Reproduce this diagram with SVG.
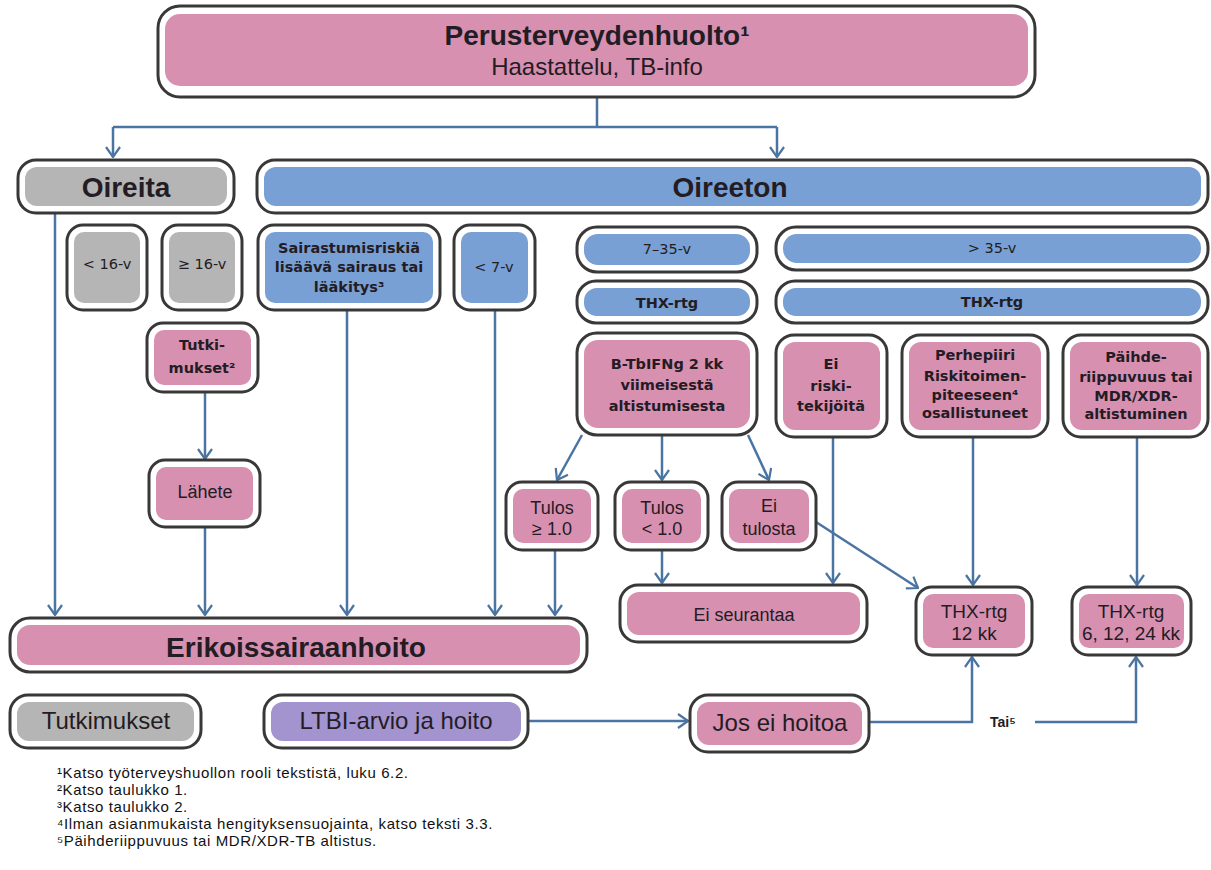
<svg xmlns="http://www.w3.org/2000/svg" width="1211" height="870" viewBox="0 0 1211 870">
<defs>
<marker id="ar" viewBox="0 0 12 16" refX="11" refY="8" markerWidth="12" markerHeight="16" markerUnits="userSpaceOnUse" orient="auto">
<path d="M1,1 L11,8 L1,15" fill="none" stroke="#4a74a2" stroke-width="2.2"/>
</marker>
</defs>
<style>
.o{fill:#fff;stroke:#383838;stroke-width:3}
.pk{fill:#d890b1}
.bl{fill:#78a0d5}
.gy{fill:#b5b5b5}
.pu{fill:#a393cf}
.h{font-family:"Liberation Sans",Arial,sans-serif;font-weight:bold;font-size:28px;fill:#231c24;text-anchor:middle}
.s{font-family:"DejaVu Sans",Verdana,sans-serif;font-weight:bold;font-size:14.5px;fill:#231c24;text-anchor:middle}
.a{font-family:"DejaVu Sans",Verdana,sans-serif;font-size:14.5px;fill:#231c24;text-anchor:middle}
.m{font-family:"Liberation Sans",Arial,sans-serif;font-size:18px;fill:#231c24;text-anchor:middle}
.t{font-family:"Liberation Sans",Arial,sans-serif;font-size:19px;fill:#231c24;text-anchor:middle}
.l{font-family:"Liberation Sans",Arial,sans-serif;font-size:24px;fill:#231c24;text-anchor:middle}
.f{font-family:"Liberation Sans",Arial,"DejaVu Sans",sans-serif;font-size:15px;letter-spacing:0.6px;fill:#111}
.c{fill:none;stroke:#4a74a2;stroke-width:2.5}
</style>
<rect width="1211" height="870" fill="#fff"/>

<g id="connectors">
<path class="c" d="M597,97 V127 M113,127 H777"/>
<path class="c" d="M113,127 V157" marker-end="url(#ar)"/>
<path class="c" d="M777,127 V157" marker-end="url(#ar)"/>
<path class="c" d="M55,213 V615" marker-end="url(#ar)"/>
<path class="c" d="M205,392 V459" marker-end="url(#ar)"/>
<path class="c" d="M205,527 V615" marker-end="url(#ar)"/>
<path class="c" d="M347,310 V615" marker-end="url(#ar)"/>
<path class="c" d="M495,310 V615" marker-end="url(#ar)"/>
<path class="c" d="M582,435 L557,480" marker-end="url(#ar)"/>
<path class="c" d="M662,435 V480" marker-end="url(#ar)"/>
<path class="c" d="M748,435 L769,480" marker-end="url(#ar)"/>
<path class="c" d="M555,550 V615" marker-end="url(#ar)"/>
<path class="c" d="M662,550 V583" marker-end="url(#ar)"/>
<path class="c" d="M833,437 V583" marker-end="url(#ar)"/>
<path class="c" d="M973,437 V585" marker-end="url(#ar)"/>
<path class="c" d="M1137,437 V585" marker-end="url(#ar)"/>
<path class="c" d="M816,522 L918,588" marker-end="url(#ar)"/>
<path class="c" d="M528,721 H688" marker-end="url(#ar)"/>
<path class="c" d="M869,722 H972 V657" marker-end="url(#ar)"/>
<path class="c" d="M1035,722 H1136 V657" marker-end="url(#ar)"/>
<text x="990" y="727" font-family="Liberation Sans, DejaVu Sans, sans-serif" font-weight="bold" font-size="14" fill="#231c24">Tai⁵</text>
</g>

<g id="perusterveydenhuolto">
<rect class="o" x="158" y="6" width="877" height="91" rx="22"/>
<rect class="pk" x="165" y="14" width="863" height="72" rx="15"/>
<text class="h" x="597" y="45">Perusterveydenhuolto¹</text>
<text class="l" x="597" y="75" font-size="27">Haastattelu, TB-info</text>
</g>

<g id="oireita">
<rect class="o" x="18" y="160" width="216" height="53" rx="18"/>
<rect class="gy" x="25" y="167" width="202" height="39" rx="12"/>
<text class="h" x="126" y="197">Oireita</text>
</g>

<g id="oireeton">
<rect class="o" x="257" y="160" width="951" height="53" rx="18"/>
<rect class="bl" x="264" y="167" width="937" height="39" rx="12"/>
<text class="h" x="730" y="197">Oireeton</text>
</g>

<g id="alle16">
<rect class="o" x="67" y="225" width="80" height="85" rx="16"/>
<rect class="gy" x="74" y="232" width="66" height="71" rx="10"/>
<text class="a" x="107" y="269">&lt; 16-v</text>
</g>

<g id="yli16">
<rect class="o" x="162" y="225" width="80" height="85" rx="16"/>
<rect class="gy" x="169" y="232" width="66" height="71" rx="10"/>
<text class="a" x="202" y="269">≥ 16-v</text>
</g>

<g id="sairastumisriski">
<rect class="o" x="258" y="225" width="182" height="85" rx="16"/>
<rect class="bl" x="265" y="232" width="168" height="71" rx="10"/>
<text class="s" x="349" y="253">Sairastumisriskiä</text>
<text class="s" x="349" y="272">lisäävä sairaus tai</text>
<text class="s" x="349" y="292">lääkitys³</text>
</g>

<g id="alle7">
<rect class="o" x="454" y="225" width="81" height="85" rx="16"/>
<rect class="bl" x="461" y="232" width="67" height="71" rx="10"/>
<text class="a" x="494" y="272">&lt; 7-v</text>
</g>

<g id="ika7-35">
<rect class="o" x="577" y="227" width="180" height="45" rx="20"/>
<rect class="bl" x="584" y="234" width="166" height="31" rx="14"/>
<text class="a" x="667" y="254">7–35-v</text>
</g>

<g id="thx-vasen">
<rect class="o" x="577" y="281" width="180" height="42" rx="19"/>
<rect class="bl" x="584" y="288" width="166" height="28" rx="13"/>
<text class="s" x="667" y="308">THX-rtg</text>
</g>

<g id="yli35">
<rect class="o" x="776" y="227" width="432" height="43" rx="20"/>
<rect class="bl" x="783" y="234" width="418" height="29" rx="14"/>
<text class="a" x="992" y="253">&gt; 35-v</text>
</g>

<g id="thx-oikea">
<rect class="o" x="776" y="281" width="432" height="42" rx="19"/>
<rect class="bl" x="783" y="288" width="418" height="28" rx="13"/>
<text class="s" x="992" y="307">THX-rtg</text>
</g>

<g id="tutkimukset2">
<rect class="o" x="147" y="323" width="111" height="69" rx="16"/>
<rect class="pk" x="154" y="330" width="97" height="55" rx="10"/>
<text class="s" x="202" y="350">Tutki-</text>
<text class="s" x="202" y="373">mukset²</text>
</g>

<g id="btbifng">
<rect class="o" x="577" y="333" width="180" height="102" rx="20"/>
<rect class="pk" x="584" y="340" width="166" height="88" rx="14"/>
<text class="s" x="667" y="369">B-TbIFNg 2 kk</text>
<text class="s" x="667" y="390">viimeisestä</text>
<text class="s" x="667" y="411">altistumisesta</text>
</g>

<g id="ei-riskitekijoita">
<rect class="o" x="776" y="335" width="111" height="102" rx="18"/>
<rect class="pk" x="783" y="342" width="97" height="88" rx="12"/>
<text class="s" x="831" y="369">Ei</text>
<text class="s" x="831" y="391">riski-</text>
<text class="s" x="831" y="411">tekijöitä</text>
</g>

<g id="perhepiiri">
<rect class="o" x="902" y="335" width="146" height="102" rx="18"/>
<rect class="pk" x="909" y="342" width="132" height="88" rx="12"/>
<text class="s" x="975" y="360">Perhepiiri</text>
<text class="s" x="975" y="381">Riskitoimen-</text>
<text class="s" x="975" y="400">piteeseen⁴</text>
<text class="s" x="975" y="418">osallistuneet</text>
</g>

<g id="paihde">
<rect class="o" x="1063" y="335" width="145" height="102" rx="18"/>
<rect class="pk" x="1070" y="342" width="131" height="88" rx="12"/>
<text class="s" x="1136" y="362">Päihde-</text>
<text class="s" x="1136" y="382">riippuvuus tai</text>
<text class="s" x="1136" y="401">MDR/XDR-</text>
<text class="s" x="1136" y="419">altistuminen</text>
</g>

<g id="lahete">
<rect class="o" x="149" y="460" width="111" height="67" rx="16"/>
<rect class="pk" x="156" y="467" width="97" height="53" rx="10"/>
<text class="m" x="205" y="498">Lähete</text>
</g>

<g id="tulos-yli">
<rect class="o" x="506" y="482" width="92" height="68" rx="16"/>
<rect class="pk" x="513" y="489" width="78" height="54" rx="10"/>
<text class="m" x="552" y="514">Tulos</text>
<text class="m" x="552" y="535">≥ 1.0</text>
</g>

<g id="tulos-alle">
<rect class="o" x="615" y="482" width="93" height="68" rx="16"/>
<rect class="pk" x="622" y="489" width="79" height="54" rx="10"/>
<text class="m" x="662" y="514">Tulos</text>
<text class="m" x="662" y="535">&lt; 1.0</text>
</g>

<g id="ei-tulosta">
<rect class="o" x="722" y="482" width="94" height="68" rx="16"/>
<rect class="pk" x="729" y="489" width="80" height="54" rx="10"/>
<text class="m" x="769" y="512">Ei</text>
<text class="m" x="769" y="535">tulosta</text>
</g>

<g id="ei-seurantaa">
<rect class="o" x="620" y="585" width="247" height="57" rx="18"/>
<rect class="pk" x="627" y="592" width="233" height="43" rx="12"/>
<text class="m" x="744" y="621">Ei seurantaa</text>
</g>

<g id="thx-12kk">
<rect class="o" x="916" y="587" width="116" height="68" rx="16"/>
<rect class="pk" x="923" y="594" width="102" height="54" rx="10"/>
<text class="t" x="974" y="618">THX-rtg</text>
<text class="t" x="974" y="640">12 kk</text>
</g>

<g id="thx-6-12-24kk">
<rect class="o" x="1072" y="587" width="119" height="68" rx="16"/>
<rect class="pk" x="1079" y="594" width="105" height="54" rx="10"/>
<text class="t" x="1131" y="618">THX-rtg</text>
<text class="t" x="1131" y="640">6, 12, 24 kk</text>
</g>

<g id="erikoissairaanhoito">
<rect class="o" x="10" y="618" width="577" height="54" rx="20"/>
<rect class="pk" x="17" y="625" width="563" height="40" rx="13"/>
<text class="h" x="296" y="657">Erikoissairaanhoito</text>
</g>

<g id="tutkimukset">
<rect class="o" x="10" y="695" width="191" height="53" rx="18"/>
<rect class="gy" x="17" y="702" width="177" height="39" rx="12"/>
<text class="l" x="106" y="729" font-size="23">Tutkimukset</text>
</g>

<g id="ltbi">
<rect class="o" x="264" y="695" width="264" height="53" rx="18"/>
<rect class="pu" x="271" y="702" width="250" height="39" rx="12"/>
<text class="l" x="396" y="729" font-size="25">LTBI-arvio ja hoito</text>
</g>

<g id="jos-ei-hoitoa">
<rect class="o" x="690" y="695" width="179" height="57" rx="18"/>
<rect class="pk" x="697" y="702" width="165" height="43" rx="12"/>
<text class="l" x="780" y="731" font-size="23">Jos ei hoitoa</text>
</g>

<g id="alaviitteet">
<text class="f" x="57" y="778">¹Katso työterveyshuollon rooli tekstistä, luku 6.2.</text>
<text class="f" x="57" y="795">²Katso taulukko 1.</text>
<text class="f" x="57" y="812">³Katso taulukko 2.</text>
<text class="f" x="57" y="829">⁴Ilman asianmukaista hengityksensuojainta, katso teksti 3.3.</text>
<text class="f" x="57" y="846">⁵Päihderiippuvuus tai MDR/XDR-TB altistus.</text>
</g>
</svg>
